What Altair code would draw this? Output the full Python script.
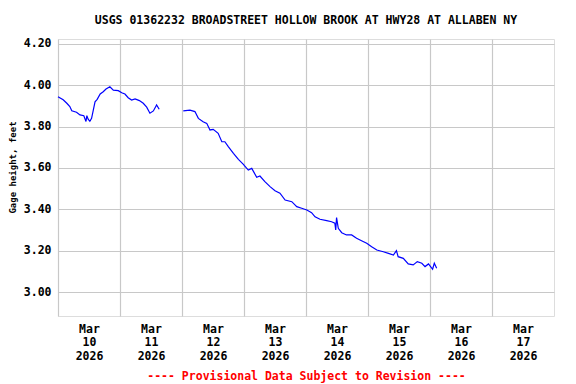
import altair as alt
import pandas as pd

# ---- data ----
seg1_times = ["2026-03-10T00:00", "2026-03-10T02:00", "2026-03-10T03:25", "2026-03-10T04:35",
              "2026-03-10T05:20", "2026-03-10T07:10", "2026-03-10T08:30", "2026-03-10T10:00",
              "2026-03-10T10:50", "2026-03-10T11:10", "2026-03-10T11:40", "2026-03-10T12:20",
              "2026-03-10T13:00", "2026-03-10T13:40", "2026-03-10T14:20", "2026-03-10T15:10",
              "2026-03-10T16:20", "2026-03-10T17:30", "2026-03-10T18:35", "2026-03-10T20:05",
              "2026-03-10T21:25", "2026-03-10T23:20", "2026-03-11T00:40", "2026-03-11T01:55",
              "2026-03-11T03:10", "2026-03-11T04:30", "2026-03-11T05:50", "2026-03-11T07:30",
              "2026-03-11T09:00", "2026-03-11T10:20", "2026-03-11T11:35", "2026-03-11T12:55",
              "2026-03-11T14:10", "2026-03-11T15:10"]
seg1_values = [3.945, 3.930, 3.913, 3.897,
               3.877, 3.870, 3.857, 3.853,
               3.825, 3.853, 3.836, 3.826,
               3.840, 3.880, 3.920, 3.932,
               3.958, 3.969, 3.982, 3.993,
               3.977, 3.974, 3.964, 3.958,
               3.940, 3.929, 3.934, 3.926,
               3.913, 3.894, 3.865, 3.876,
               3.905, 3.884]

seg2_times = ["2026-03-12T00:30", "2026-03-12T03:05", "2026-03-12T05:00", "2026-03-12T06:20",
              "2026-03-12T08:10", "2026-03-12T09:35", "2026-03-12T10:50", "2026-03-12T12:05",
              "2026-03-12T14:00", "2026-03-12T15:25", "2026-03-12T16:35", "2026-03-12T17:55",
              "2026-03-12T19:55", "2026-03-12T21:50", "2026-03-12T23:40", "2026-03-13T01:40",
              "2026-03-13T03:00", "2026-03-13T04:55", "2026-03-13T06:10", "2026-03-13T08:05",
              "2026-03-13T10:05", "2026-03-13T12:00", "2026-03-13T13:55", "2026-03-13T15:55",
              "2026-03-13T18:30", "2026-03-13T20:25", "2026-03-13T22:20", "2026-03-14T00:20",
              "2026-03-14T02:10", "2026-03-14T03:30", "2026-03-14T05:25", "2026-03-14T08:00",
              "2026-03-14T09:55", "2026-03-14T11:10", "2026-03-14T11:30", "2026-03-14T11:50",
              "2026-03-14T12:30", "2026-03-14T13:50", "2026-03-14T15:40", "2026-03-14T17:40",
              "2026-03-14T19:35", "2026-03-14T21:30", "2026-03-14T23:30", "2026-03-15T01:25",
              "2026-03-15T03:25", "2026-03-15T05:55", "2026-03-15T07:55", "2026-03-15T09:50",
              "2026-03-15T11:00", "2026-03-15T11:40", "2026-03-15T13:40", "2026-03-15T15:35",
              "2026-03-15T17:30", "2026-03-15T19:05", "2026-03-15T20:50", "2026-03-15T22:05",
              "2026-03-15T23:25", "2026-03-16T01:00", "2026-03-16T01:40", "2026-03-16T02:35"]
seg2_values = [3.876, 3.880, 3.873, 3.840,
               3.824, 3.816, 3.784, 3.787,
               3.768, 3.727, 3.727, 3.703,
               3.671, 3.642, 3.619, 3.590,
               3.598, 3.555, 3.561, 3.534,
               3.510, 3.490, 3.478, 3.445,
               3.437, 3.413, 3.405, 3.397,
               3.384, 3.364, 3.352, 3.345,
               3.340, 3.333, 3.300, 3.360,
               3.308, 3.287, 3.276, 3.276,
               3.260, 3.248, 3.236, 3.219,
               3.203, 3.195, 3.187, 3.179,
               3.200, 3.171, 3.163, 3.136,
               3.131, 3.147, 3.139, 3.123,
               3.136, 3.110, 3.139, 3.115]

y_ticks = [3.0, 3.2, 3.4, 3.6, 3.8, 4.0, 4.2]
x_days = [10, 11, 12, 13, 14, 15, 16, 17]

title_text = "USGS 01362232 BROADSTREET HOLLOW BROOK AT HWY28 AT ALLABEN NY"
y_title = "Gage height, feet"
footer = "---- Provisional Data Subject to Revision ----"

FONT = "DejaVu Sans Mono"

df = pd.DataFrame({
    "time": seg1_times + seg2_times,
    "value": seg1_values + seg2_values,
    "seg": ["a"] * len(seg1_times) + ["b"] * len(seg2_times),
})

x_axis = alt.Axis(
    values=[alt.DateTime(year=2026, month=3, date=d) for d in x_days],
    labelExpr="[timeFormat(datum.value, '%b'), timeFormat(datum.value, '%d'), timeFormat(datum.value, '%Y')]",
    labelOffset=31,
    labelFlush=False,
    labelOverlap=False,
    labelBound=False,
    labelBaseline="top",
    labelLineHeight=13.5,
    labelPadding=7,
    labelFont=FONT, labelFontSize=11.5, labelFontWeight="bold", labelColor="black",
    ticks=False, domain=False,
    grid=True, gridColor="#c8c8c8", gridWidth=1.2,
    title=footer, titleColor="red", titleFont=FONT, titleFontSize=11.5,
    titleFontWeight="bold", titlePadding=9,
)

y_axis = alt.Axis(
    values=y_ticks, format=".2f",
    labelPadding=7, labelFont=FONT, labelFontSize=11.5, labelFontWeight="bold",
    labelColor="black",
    ticks=False, domain=False,
    grid=True, gridColor="#c8c8c8", gridWidth=1.2,
    title=y_title, titleFont=FONT, titleFontSize=9, titleFontWeight="bold",
    titleColor="black", titlePadding=6, titleY=128,
)

chart = alt.Chart(df).mark_line(color="#0000ff", strokeWidth=1.2, interpolate="linear").encode(
    x=alt.X("time:T", axis=x_axis,
            scale=alt.Scale(domain=[alt.DateTime(year=2026, month=3, date=10),
                                    alt.DateTime(year=2026, month=3, date=18)], nice=False)),
    y=alt.Y("value:Q", axis=y_axis,
            scale=alt.Scale(domain=[2.884, 4.224], nice=False, zero=False)),
    detail="seg:N",
).properties(
    width=496, height=277,
    title=alt.TitleParams(title_text, font=FONT, fontSize=11.5, fontWeight="bold",
                          color="black", anchor="middle", frame="group", offset=11),
    autosize=alt.AutoSizeParams(type="none"),
    padding={"left": 50, "top": 31, "right": 14, "bottom": 68},
).configure_view(
    stroke="black", strokeWidth=1.5
).configure(background="white")

chart.save("out.html", embed_options={"renderer": "svg", "actions": False})
